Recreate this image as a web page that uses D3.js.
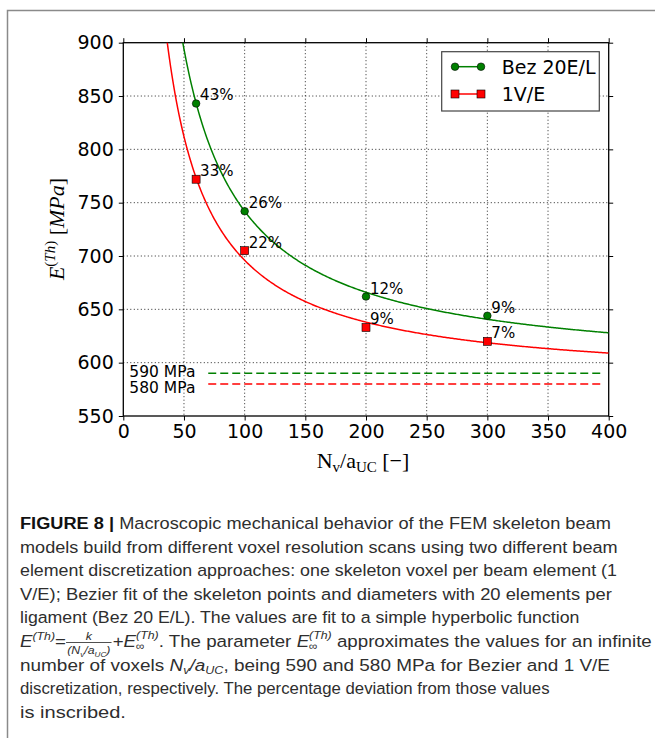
<!DOCTYPE html>
<html>
<head>
<meta charset="utf-8">
<script src="https://cdn.jsdelivr.net/npm/d3@7"></script>
<style>
    body { margin: 0; background: #fff; }
    svg { display: block; }
</style>
</head>
<body>
<svg id="fig" width="655" height="738"></svg>
<script>
/* Chart values. */
const resolutions = [60, 100, 200, 300];
const bezValues = [843, 742, 662, 644];
const veValues = [772, 705, 633, 620];
const bezLabels = ['43%', '26%', '12%', '9%'];
const veLabels = ['33%', '22%', '9%', '7%'];
const seriesNames = ['Bez 20E/L', '1V/E'];
const seriesColors = ['#008000', '#ff0000'];
// Hyperbolic fit E = k / x + Einf (parameters of the plotted fits).
const fitK = [15200, 11600];
const fitInf = [590, 580];
const limitLabels = ['590 MPa', '580 MPa'];
const xTicks = [0, 50, 100, 150, 200, 250, 300, 350, 400];
const yTicks = [550, 600, 650, 700, 750, 800, 850, 900];

/* Chart creation values. */
const margin = {top: 42.7, right: 46.3, bottom: 322, left: 123.3};
const width = 655 - margin.left - margin.right;
const height = 738 - margin.top - margin.bottom;
const tickFont = 'DejaVu Sans, sans-serif';
const mathFont = 'Liberation Serif, serif';

const root = d3.select('#fig');

// Gray frame at top and left.
root.append('path')
    .attr('d', 'M7.5,738 V10.5 H655')
    .attr('fill', 'none')
    .attr('stroke', '#8a8a8a')
    .attr('stroke-width', 1.5);

const svg = root.append('g')
    .attr('transform', 'translate(' + margin.left + ',' + margin.top + ')');

const x = d3.scaleLinear().domain([0, 400]).range([0, width]);
const y = d3.scaleLinear().domain([550, 900]).range([height, 0]);

svg.append('clipPath').attr('id', 'plotClip')
    .append('rect').attr('width', width).attr('height', height);

// Dotted grid.
svg.selectAll('.gx').data(xTicks.slice(1, -1)).enter().append('line')
    .attr('x1', d => x(d)).attr('x2', d => x(d))
    .attr('y1', 0).attr('y2', height)
    .attr('stroke', '#111').attr('stroke-width', 0.9).attr('stroke-dasharray', '1,2.5');
svg.selectAll('.gy').data(yTicks.slice(1, -1)).enter().append('line')
    .attr('x1', 0).attr('x2', width)
    .attr('y1', d => y(d)).attr('y2', d => y(d))
    .attr('stroke', '#111').attr('stroke-width', 0.9).attr('stroke-dasharray', '1,2.5');

// Axes on all four sides.
function styleAxis(g) {
    g.select('.domain').remove();
    g.selectAll('line').attr('stroke', '#000').attr('stroke-width', 1);
    g.selectAll('text').attr('font-family', tickFont).attr('font-size', 19).attr('fill', '#000');
}
svg.append('g').attr('transform', 'translate(0,' + height + ')')
    .call(d3.axisBottom(x).tickValues(xTicks).tickSize(4.5).tickPadding(4))
    .call(styleAxis);
svg.append('g')
    .call(d3.axisLeft(y).tickValues(yTicks).tickSize(4.5).tickPadding(5))
    .call(styleAxis);
svg.append('g')
    .call(d3.axisTop(x).tickValues(xTicks).tickSize(4.5).tickFormat(''))
    .call(styleAxis);
svg.append('g').attr('transform', 'translate(' + width + ',0)')
    .call(d3.axisRight(y).tickValues(yTicks).tickSize(4.5).tickFormat(''))
    .call(styleAxis);
svg.append('rect')
    .attr('width', width).attr('height', height)
    .attr('fill', 'none').attr('stroke', '#000').attr('stroke-width', 1.3);

// Asymptote lines.
fitInf.forEach(function (v, i) {
    svg.append('line')
        .attr('x1', x(70)).attr('x2', x(395))
        .attr('y1', y(v)).attr('y2', y(v))
        .attr('stroke', seriesColors[i]).attr('stroke-width', 1.5)
        .attr('stroke-dasharray', '8,4');
});
svg.selectAll('.lim').data(limitLabels).enter().append('text')
    .attr('x', x(5)).attr('y', (d, i) => y([587, 572][i]))
    .attr('font-family', tickFont).attr('font-size', 15.5).attr('fill', '#000')
    .text(d => d);

// Fit curves.
const curveX = d3.range(20, 400.5, 1);
fitK.forEach(function (k, i) {
    svg.append('path')
        .datum(curveX)
        .attr('clip-path', 'url(#plotClip)')
        .attr('fill', 'none')
        .attr('stroke', seriesColors[i])
        .attr('stroke-width', 1.5)
        .attr('d', d3.line().x(d => x(d)).y(d => y(k / d + fitInf[i])));
});

// Data points.
svg.selectAll('.bez').data(resolutions).enter().append('circle')
    .attr('cx', d => x(d)).attr('cy', (d, i) => y(bezValues[i]))
    .attr('r', 3.8)
    .attr('fill', seriesColors[0]).attr('stroke', '#000').attr('stroke-width', 0.6);
svg.selectAll('.ve').data(resolutions).enter().append('rect')
    .attr('x', d => x(d) - 4).attr('y', (d, i) => y(veValues[i]) - 4)
    .attr('width', 8).attr('height', 8)
    .attr('fill', seriesColors[1]).attr('stroke', '#000').attr('stroke-width', 0.6);

// Percentage labels.
svg.selectAll('.bezl').data(bezLabels).enter().append('text')
    .attr('x', (d, i) => x(resolutions[i]) + 4)
    .attr('y', (d, i) => y(bezValues[i]) - 3)
    .attr('font-family', tickFont).attr('font-size', 15).attr('fill', '#000')
    .text(d => d);
svg.selectAll('.vel').data(veLabels).enter().append('text')
    .attr('x', (d, i) => x(resolutions[i]) + 4)
    .attr('y', (d, i) => y(veValues[i]) - 3)
    .attr('font-family', tickFont).attr('font-size', 15).attr('fill', '#000')
    .text(d => d);

// Legend.
const legend = root.append('g').attr('transform', 'translate(441.7,51.7)');
legend.append('rect')
    .attr('width', 157.6).attr('height', 59.3)
    .attr('fill', '#fff').attr('stroke', '#444').attr('stroke-width', 1.2);
seriesNames.forEach(function (name, i) {
    const ly = 15 + i * 27.3;
    legend.append('line')
        .attr('x1', 13.3).attr('x2', 39.3).attr('y1', ly).attr('y2', ly)
        .attr('stroke', seriesColors[i]).attr('stroke-width', 1.5);
    [13.3, 39.3].forEach(function (lx) {
        if (i === 0)
            legend.append('circle').attr('cx', lx).attr('cy', ly).attr('r', 3.8)
                .attr('fill', seriesColors[i]).attr('stroke', '#000').attr('stroke-width', 0.6);
        else
            legend.append('rect').attr('x', lx - 4).attr('y', ly - 4).attr('width', 8).attr('height', 8)
                .attr('fill', seriesColors[i]).attr('stroke', '#000').attr('stroke-width', 0.6);
    });
    legend.append('text')
        .attr('x', 60).attr('y', ly + 7)
        .attr('font-family', tickFont).attr('font-size', 19).attr('fill', '#000')
        .text(name);
});

// Axis titles.
const xt = root.append('text')
    .attr('x', 363).attr('y', 468)
    .attr('text-anchor', 'middle')
    .attr('font-family', mathFont).attr('font-size', 22).attr('fill', '#000');
xt.append('tspan').text('N');
xt.append('tspan').attr('font-size', 15).attr('dy', 4).text('v');
xt.append('tspan').attr('dy', -4).text('/a');
xt.append('tspan').attr('font-size', 15).attr('dy', 4).text('UC');
xt.append('tspan').attr('dy', -4).text(' [\u2212]');

const yt = root.append('text')
    .attr('transform', 'translate(64,229) rotate(-90)')
    .attr('text-anchor', 'middle')
    .attr('font-family', mathFont).attr('font-size', 22).attr('fill', '#000');
yt.append('tspan').attr('font-style', 'italic').text('E');
yt.append('tspan').attr('font-size', 15).attr('dy', -9).text('(');
yt.append('tspan').attr('font-size', 15).attr('font-style', 'italic').text('Th');
yt.append('tspan').attr('font-size', 15).text(')');
yt.append('tspan').attr('dy', 9).text(' [');
yt.append('tspan').attr('font-style', 'italic').text('MPa');
yt.append('tspan').text(']');

/* Figure caption: every line is laid out piece by piece, then squeezed to its width. */
const capX = 20;
const capSize = 17;
const cap = root.append('g')
    .attr('font-family', 'Liberation Sans, Arial, sans-serif')
    .attr('fill', '#2e2e2e');

// Draw one run of pieces starting at cx, return the advance.
function drawRun(g, items, cx, by, size) {
    let adv = 0;
    for (const it of items) {
        if (it.frac) {
            const fs = size * 0.66;
            const gn = g.append('g'), gd = g.append('g');
            const wn = drawRun(gn, it.frac[0], 0, by - 6.5, fs);
            const wd = drawRun(gd, it.frac[1], 0, by + 7, fs);
            const w = Math.max(wn, wd) + 2;
            gn.attr('transform', 'translate(' + (cx + adv + (w - wn) / 2) + ',0)');
            gd.attr('transform', 'translate(' + (cx + adv + (w - wd) / 2) + ',0)');
            g.append('line')
                .attr('x1', cx + adv).attr('x2', cx + adv + w)
                .attr('y1', by - 4.5).attr('y2', by - 4.5)
                .attr('stroke', '#2e2e2e').attr('stroke-width', 0.8);
            adv += w + 1;
        } else if (it.supsub) {
            const fs = size * 0.66;
            const w1 = drawRun(g, [{s: it.supsub[0], i: true}], cx + adv, by - 8, fs);
            const w2 = drawRun(g, [{s: it.supsub[1]}], cx + adv, by + 3, fs);
            adv += Math.max(w1, w2);
        } else {
            let fs = size, yy = by;
            if (it.sub) { fs = size * 0.66; yy = by + 3; }
            if (it.sup) { fs = size * 0.66; yy = by - 7; }
            const t = g.append('text')
                .attr('x', cx + adv).attr('y', yy)
                .attr('font-size', fs)
                .attr('font-style', it.i ? 'italic' : null)
                .attr('font-weight', it.b ? 'bold' : null)
                .attr('fill', it.b ? '#111' : null)
                .style('white-space', 'pre')
                .text(it.s);
            adv += t.node().getComputedTextLength();
        }
    }
    return adv;
}

function captionLine(items, by, targetW) {
    const g = cap.append('g');
    const w = drawRun(g, items, 0, by, capSize);
    g.attr('transform', 'translate(' + capX + ',0) scale(' + (targetW / w) + ',1)');
}

captionLine([{s: 'FIGURE 8 | ', b: true}, {s: 'Macroscopic mechanical behavior of the FEM skeleton beam'}], 529, 591);
captionLine([{s: 'models build from different voxel resolution scans using two different beam'}], 552.6, 598);
captionLine([{s: 'element discretization approaches: one skeleton voxel per beam element (1'}], 576.2, 597);
captionLine([{s: 'V/E); Bezier fit of the skeleton points and diameters with 20 elements per'}], 599.8, 592);
captionLine([{s: 'ligament (Bez 20 E/L). The values are fit to a simple hyperbolic function'}], 623.4, 560);
captionLine([
    {s: 'E', i: true}, {s: '(Th)', i: true, sup: true}, {s: '='},
    {frac: [[{s: 'k', i: true}],
            [{s: '(', i: true}, {s: 'N', i: true}, {s: 'v', i: true, sub: true}, {s: '/a', i: true},
             {s: 'UC', i: true, sub: true}, {s: ')', i: true}]]},
    {s: '+'}, {s: 'E', i: true}, {supsub: ['(Th)', '\u221e']},
    {s: '. The parameter '}, {s: 'E', i: true}, {supsub: ['(Th)', '\u221e']},
    {s: ' approximates the values for an infinite'}
], 647, 632);
captionLine([
    {s: 'number of voxels '}, {s: 'N', i: true}, {s: 'v', i: true, sub: true}, {s: '/a', i: true},
    {s: 'UC', i: true, sub: true}, {s: ', being 590 and 580 MPa for Bezier and 1 V/E'}
], 670.6, 590);
captionLine([{s: 'discretization, respectively. The percentage deviation from those values'}], 694.2, 530);
captionLine([{s: 'is inscribed.'}], 717.8, 106);
</script>
</body>
</html>
